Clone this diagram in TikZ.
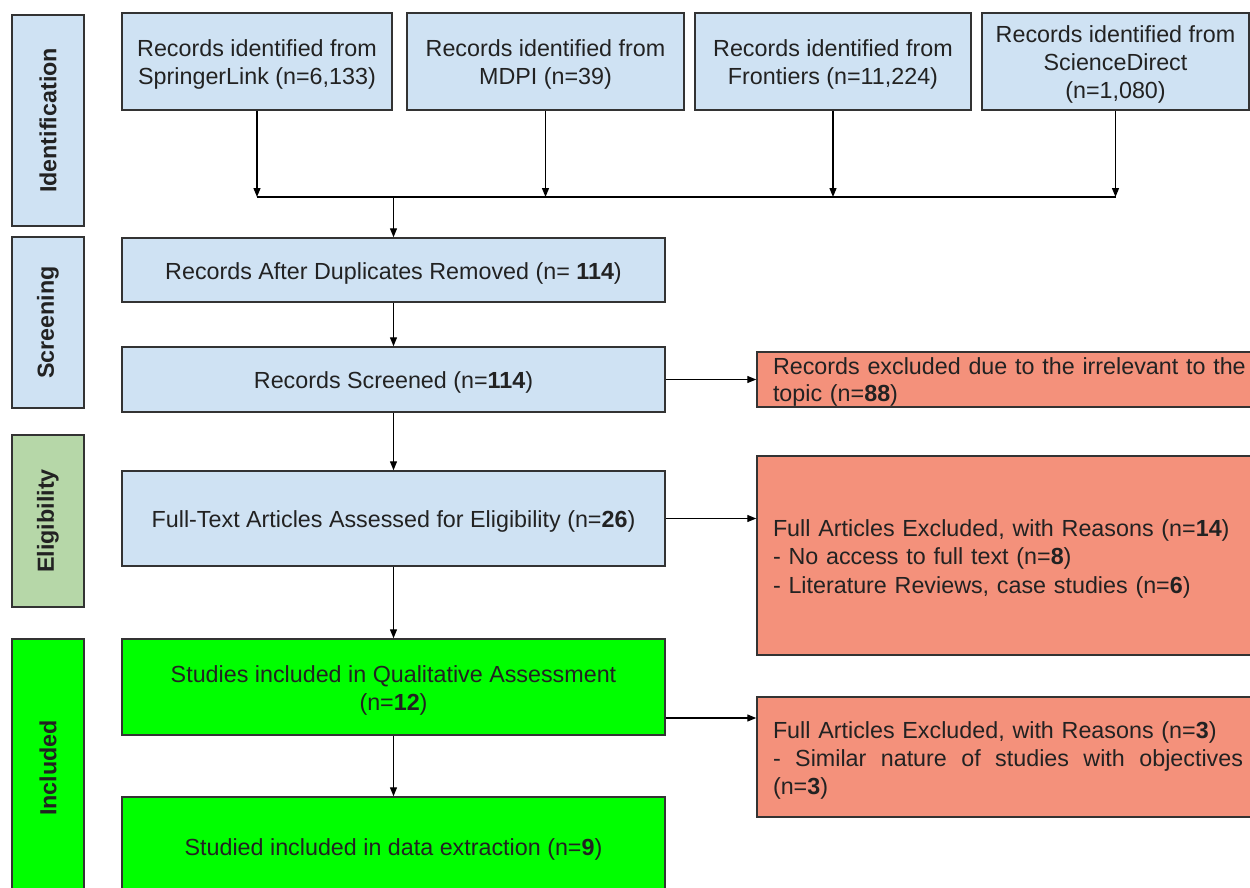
\documentclass[tikz,border=0pt]{standalone}
\usepackage{fontspec}
\setmainfont{Liberation Sans}
\usetikzlibrary{arrows.meta,calc}
\definecolor{boxblue}{HTML}{CFE2F3}
\definecolor{boxred}{HTML}{F4917B}
\definecolor{boxgreen}{HTML}{B6D7A8}
\definecolor{boxlime}{HTML}{00FF00}
\definecolor{edge}{HTML}{333333}
\definecolor{txt}{HTML}{222222}
\newcommand\lowc[1]{\raisebox{-3.5pt}[\height][\depth]{\begin{tabular}{@{}c@{}}#1\end{tabular}}}
\newcommand\lowl[1]{\raisebox{-3.5pt}[\height][\depth]{\begin{tabular}{@{}l@{}}#1\end{tabular}}}
\begin{document}
\begin{tikzpicture}[x=1pt,y=-1pt,
  base/.style={draw=edge,line width=1.5pt,inner sep=0pt,text=txt,font=\fontsize{23.3}{28}\selectfont},
  phase/.style={base,font=\bfseries\fontsize{23.3}{28}\selectfont,rotate=90,minimum height=72pt},
  bluebox/.style={base,fill=boxblue,align=center},
  limebox/.style={base,fill=boxlime,align=center},
  redbox/.style={base,fill=boxred,align=left,text width=473pt,inner xsep=16pt},
  arr/.style={-{Triangle[length=9pt,width=7pt]},line width=1.3pt,draw=black},
  plain/.style={line width=1.3pt,draw=black}
]
\useasboundingbox (0,0) rectangle (1250,888);
\clip (0,0) rectangle (1250,888);

% phase labels
\node[phase,fill=boxblue,minimum width=211pt] (pid) at (48,120.5) {Identification};
\node[phase,fill=boxblue,minimum width=171pt] (pscr) at (48,322.5) {Screening};
\node[phase,fill=boxgreen,minimum width=172pt] (pel) at (48,521) {Eligibility};
\node[phase,fill=boxlime,minimum width=258pt] (pinc) at (48,768) {Included};

% identification boxes
\node[bluebox,minimum width=270pt,minimum height=97pt] (sp) at (257,61.5) {\lowc{Records identified from\\SpringerLink (n=6,133)}};
\node[bluebox,minimum width=277pt,minimum height=97pt] (md) at (545.5,61.5) {\lowc{Records identified from\\MDPI (n=39)}};
\node[bluebox,minimum width=276pt,minimum height=97pt] (fr) at (833,61.5) {\lowc{Records identified from\\Frontiers (n=11,224)}};
\node[bluebox,minimum width=267pt,minimum height=97pt] (sd) at (1115.5,61.5) {\lowc{Records identified from\\ScienceDirect\\(n=1,080)}};

% main column
\node[bluebox,minimum width=543pt,minimum height=64pt] (dup) at (393.5,270) {\lowc{Records After Duplicates Removed (n= \textbf{114})}};
\node[bluebox,minimum width=543pt,minimum height=65pt] (scr) at (393.5,379.5) {\lowc{Records Screened (n=\textbf{114})}};
\node[bluebox,minimum width=543pt,minimum height=95pt] (ft) at (393.5,518.5) {\lowc{Full-Text Articles Assessed for Eligibility (n=\textbf{26})}};
\node[limebox,minimum width=543pt,minimum height=96pt] (qual) at (393.5,687) {\lowc{Studies included in Qualitative Assessment\\(n=\textbf{12})}};
\node[limebox,minimum width=543pt,minimum height=98pt] (ext) at (393.5,846) {\lowc{Studied included in data extraction (n=\textbf{9})}};

% exclusion boxes
\node[redbox,minimum height=55pt,font=\fontsize{23.3}{27}\selectfont] (ex1) at (1009.5,379.5) {\lowl{Records excluded due to the irrelevant to the\\topic (n=\textbf{88})}};
\node[redbox,minimum height=199pt,font=\fontsize{23.3}{28.5}\selectfont] (ex2) at (1009.5,555.5) {\lowl{Full Articles Excluded, with Reasons (n=\textbf{14})\\- No access to full text (n=\textbf{8})\\- Literature Reviews, case studies (n=\textbf{6})}};
\node[redbox,minimum height=120pt] (ex3) at (1009.5,757) {\lowl{Full Articles Excluded, with Reasons (n=\textbf{3})\\\makebox[470pt][l]{-\hfill Similar\hfill nature\hfill of\hfill studies\hfill with\hfill objectives}\\(n=\textbf{3})}};

% connectors
\coordinate (jn) at (395,197);
\draw[arr] (sp.south) -- (sp.south |- jn);
\draw[arr] (md.south) -- (md.south |- jn);
\draw[arr] (fr.south) -- (fr.south |- jn);
\draw[arr] (sd.south) -- (sd.south |- jn);
\draw[plain] (sp.south |- jn) -- (sd.south |- jn);
\draw[arr] (dup.north |- jn) -- (dup.north);
\draw[arr] (dup.south) -- (scr.north);
\draw[arr] (scr.east) -- (ex1.west);
\draw[arr] (scr.south) -- (ft.north);
\draw[arr] (ft.east) -- (ft.east -| ex2.west);
\draw[arr] (ft.south) -- (qual.north);
\draw[arr] ([yshift=-31pt]qual.east) -- ([yshift=-31pt]qual.east -| ex3.west);
\draw[arr] (qual.south) -- (ext.north);
\end{tikzpicture}
\end{document}
